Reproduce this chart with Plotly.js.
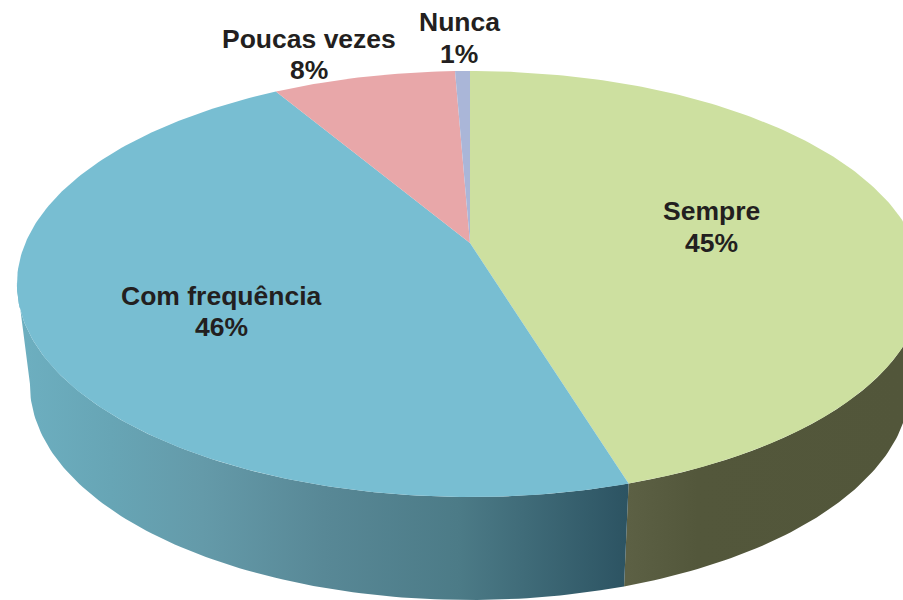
<!DOCTYPE html>
<html>
<head>
<meta charset="utf-8">
<script src="https://cdn.plot.ly/plotly-3.0.1.min.js"></script>
<style>html,body{margin:0;padding:0;background:#fff}#chart{width:903px;height:600px}</style>
</head>
<body>
<div id="chart"></div>
<script>
// Data (shares; labels show them rounded)
var categories = ['Sempre', 'Com frequência', 'Poucas vezes', 'Nunca'];
var shares = [45.3, 46.2, 7.86, 0.64];

// Styles
var topColors = ['#cde0a0', '#78bed2', '#e8a7a9', '#aab6d8'];
var labelX = [711, 221, 309, 459];
var nameY = [211, 296, 39, 22];
var percentY = [243, 327, 70, 54];
var wallScaleLeft = [[0, '#6dafc0'], [0.15, '#67a5b5'], [0.3, '#649aa9'], [0.5, '#588896'], [0.72, '#4c7b87'], [1, '#2c5362']];
var wallScaleRight = [[0, '#5c6044'], [0.25, '#53573b'], [1, '#52563a']];

// Projection of the tilted disc
var cx = 470, apexY = 243, a = 444.6, b = 205.1, k = -0.1925;
var topCy = 284, topRx = 453, topRy = 213, lowCy = 385, lowRx = 440, lowRy = 215;

function rim(f) {
  var t = 2 * Math.PI * f, x = Math.sin(t), y = -Math.cos(t), d = 1 + k * y;
  return [cx + a * x / d, apexY + b * y / d];
}
function low(f) {
  var p = rim(f);
  return [cx + (p[0] - cx) * lowRx / topRx, lowCy + (p[1] - topCy) * lowRy / topRy];
}
function arc(fn, f0, f1) {
  var pts = [], n = Math.max(4, Math.ceil(Math.abs(f1 - f0) * 400));
  for (var i = 0; i <= n; i++) pts.push(fn(f0 + (f1 - f0) * i / n));
  return pts;
}
function polygon(pts, extra) {
  var tr = {
    type: 'scatter', mode: 'lines', fill: 'toself',
    x: pts.map(function (p) { return p[0]; }),
    y: pts.map(function (p) { return p[1]; }),
    line: { width: 0 }, hoverinfo: 'skip', showlegend: false
  };
  for (var key in extra) tr[key] = extra[key];
  return tr;
}

var total = shares.reduce(function (s, v) { return s + v; }, 0);
var edges = [0];
shares.forEach(function (v, i) { edges.push(edges[i] + v / total); });

var traces = [];
// Side walls: the front edge of the first two slices
var rightStart = 0.25, leftEnd = 0.72;
traces.push(polygon(arc(rim, rightStart, edges[1]).concat(arc(low, edges[1], rightStart)), {
  fillgradient: { type: 'horizontal', start: rim(edges[1])[0], stop: 903, colorscale: wallScaleRight },
  fillcolor: '#53573b'
}));
traces.push(polygon(arc(rim, edges[1], leftEnd).concat(arc(low, leftEnd, edges[1])), {
  fillgradient: { type: 'horizontal', start: 20, stop: rim(edges[1])[0], colorscale: wallScaleLeft },
  fillcolor: '#588896'
}));
// Top face
shares.forEach(function (v, i) {
  var pts = [[cx, apexY]].concat(arc(rim, edges[i], edges[i + 1]));
  pts.push([cx, apexY]);
  traces.push(polygon(pts, { fillcolor: topColors[i] }));
});

function label(text, x, y) {
  return {
    x: x, y: y, xref: 'x', yref: 'y', showarrow: false,
    text: '<b>' + text + '</b>',
    align: 'center', xanchor: 'center', yanchor: 'middle',
    font: { family: '"Liberation Sans", Arial, sans-serif', size: 26.5, color: '#231f20' }
  };
}
var annotations = [];
categories.forEach(function (c, i) {
  annotations.push(label(c, labelX[i], nameY[i]));
  annotations.push(label(Math.round(shares[i]) + '%', labelX[i], percentY[i]));
});

Plotly.newPlot('chart', traces, {
  width: 903, height: 600,
  margin: { l: 0, r: 0, t: 0, b: 0 },
  paper_bgcolor: '#fff', plot_bgcolor: '#fff',
  showlegend: false,
  xaxis: { range: [0, 903], visible: false, fixedrange: true },
  yaxis: { range: [600, 0], visible: false, fixedrange: true },
  annotations: annotations
}, { displayModeBar: false, staticPlot: true });
</script>
</body>
</html>
